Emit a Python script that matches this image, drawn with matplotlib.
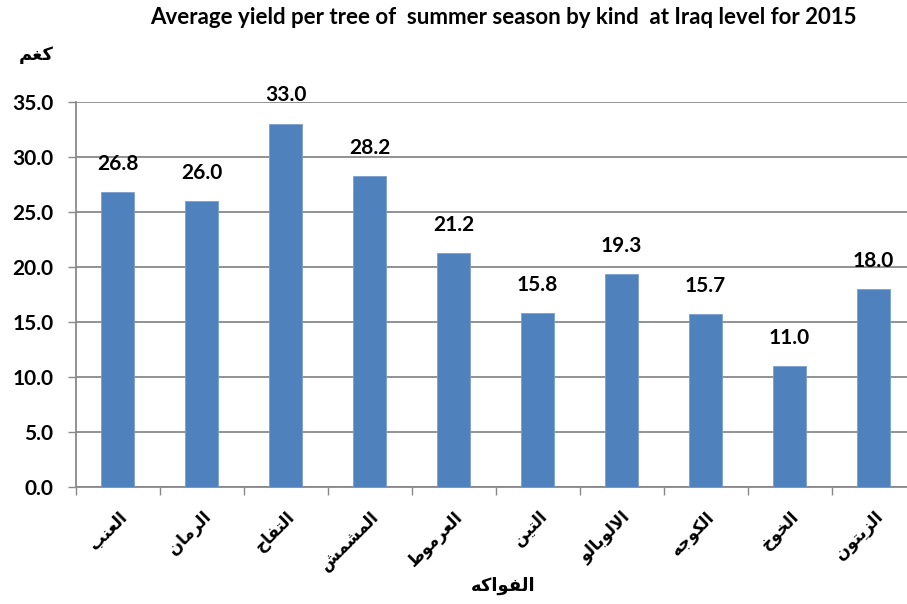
import matplotlib
matplotlib.use('Agg')
import matplotlib.pyplot as plt
import numpy as np

# data (Arabic labels in logical order, shaped before drawing)
fruits = ['العنب', 'الرمان', 'التفاح', 'المشمش', 'العرموط',
          'التين', 'الالوبالو', 'الكوجه', 'الخوخ', 'الزيتون']
values = [26.8, 26.0, 33.0, 28.2, 21.2, 15.8, 19.3, 15.7, 11.0, 18.0]
yticks = [0, 5, 10, 15, 20, 25, 30, 35]
title = 'Average yield per tree of  summer season by kind  at Iraq level for 2015'
xlabel = 'الفواكه'
ylabel = 'كغم'

# presentation forms: isolated, final, initial, medial
FORMS = {
    'ا': ('\uFE8D', '\uFE8E', None, None),
    'إ': ('\uFE87', '\uFE88', None, None),
    'ب': ('\uFE8F', '\uFE90', '\uFE91', '\uFE92'),
    'ت': ('\uFE95', '\uFE96', '\uFE97', '\uFE98'),
    'ج': ('\uFE9D', '\uFE9E', '\uFE9F', '\uFEA0'),
    'ح': ('\uFEA1', '\uFEA2', '\uFEA3', '\uFEA4'),
    'خ': ('\uFEA5', '\uFEA6', '\uFEA7', '\uFEA8'),
    'د': ('\uFEA9', '\uFEAA', None, None),
    'ر': ('\uFEAD', '\uFEAE', None, None),
    'ز': ('\uFEAF', '\uFEB0', None, None),
    'ش': ('\uFEB5', '\uFEB6', '\uFEB7', '\uFEB8'),
    'ط': ('\uFEC1', '\uFEC2', '\uFEC3', '\uFEC4'),
    'ع': ('\uFEC9', '\uFECA', '\uFECB', '\uFECC'),
    'غ': ('\uFECD', '\uFECE', '\uFECF', '\uFED0'),
    'ف': ('\uFED1', '\uFED2', '\uFED3', '\uFED4'),
    'ك': ('\uFED9', '\uFEDA', '\uFEDB', '\uFEDC'),
    'ل': ('\uFEDD', '\uFEDE', '\uFEDF', '\uFEE0'),
    'م': ('\uFEE1', '\uFEE2', '\uFEE3', '\uFEE4'),
    'ن': ('\uFEE5', '\uFEE6', '\uFEE7', '\uFEE8'),
    'ه': ('\uFEE9', '\uFEEA', '\uFEEB', '\uFEEC'),
    'و': ('\uFEED', '\uFEEE', None, None),
    'ي': ('\uFEF1', '\uFEF2', '\uFEF3', '\uFEF4'),
    'LA': ('\uFEFB', '\uFEFC', None, None),
}


def shape(word):
    chars = []
    i = 0
    while i < len(word):
        if word[i] == 'ل' and i + 1 < len(word) and word[i + 1] == 'ا':
            chars.append('LA')
            i += 2
        else:
            chars.append(word[i])
            i += 1
    out = []
    for k, c in enumerate(chars):
        if c not in FORMS:
            out.append(c)
            continue
        f = FORMS[c]
        prev_joins = k > 0 and chars[k - 1] in FORMS and FORMS[chars[k - 1]][2] is not None
        next_ok = k + 1 < len(chars) and chars[k + 1] in FORMS
        dual = f[2] is not None
        if prev_joins and dual and next_ok:
            out.append(f[3])
        elif prev_joins:
            out.append(f[1])
        elif dual and next_ok:
            out.append(f[2])
        else:
            out.append(f[0])
    return ''.join(reversed(out))


fam = ['Lato', 'DejaVu Sans']
arfam = ['DejaVu Sans']
grey = '#898989'
blue = '#4F81BD'

fig = plt.figure(figsize=(9.07, 6.04), dpi=100)
ax = fig.add_axes([75.5 / 907, 117 / 604, 840 / 907, 385.5 / 604])

x = np.arange(len(values))
bars = ax.bar(x, values, width=0.4, color=blue, edgecolor='#7A9FD0', linewidth=0.6, zorder=3)

for xi, v in zip(x, values):
    ax.annotate('%.1f' % v, (xi, v), xytext=(0, 13), textcoords='offset points',
                ha='center', va='bottom', fontsize=15, fontweight='bold', family=fam)

ax.set_xlim(-0.5, len(values) - 0.5)
ax.set_ylim(0, 35)
ax.set_yticks(yticks)
ax.set_yticklabels(['%.1f' % t for t in yticks], fontsize=15, fontweight='bold', family=fam)
ax.yaxis.grid(True, color=grey, linewidth=1.3, zorder=0)
ax.tick_params(axis='y', length=6, color=grey, width=1.0, pad=10)

ax.set_xticks(x)
ax.set_xticks(np.arange(-0.5, len(values)), minor=True)
ax.tick_params(axis='x', which='major', length=0, pad=15)
ax.tick_params(axis='x', which='minor', length=6, color=grey, width=1.0)
ax.set_xticklabels([shape(f) for f in fruits], rotation=45, ha='right', va='top',
                   rotation_mode='anchor', fontsize=12, fontweight='bold', family=arfam)
for lbl in ax.get_xticklabels():
    lbl.set_x(lbl.get_position()[0])

for s in ['top', 'right']:
    ax.spines[s].set_visible(False)
for s in ['left', 'bottom']:
    ax.spines[s].set_color(grey)
    ax.spines[s].set_linewidth(1.3)

fig.text(503 / 907, 1 - 18 / 604, title, ha='center', va='center',
         fontsize=16, fontweight='bold', family=fam)
fig.text(36 / 907, 1 - 55 / 604, shape(ylabel), ha='center', va='center',
         fontsize=13, fontweight='bold', family=arfam)
fig.text(503 / 907, 1 - 586 / 604, shape(xlabel), ha='center', va='center',
         fontsize=13, fontweight='bold', family=arfam)

fig.savefig('out.png', dpi=100)
